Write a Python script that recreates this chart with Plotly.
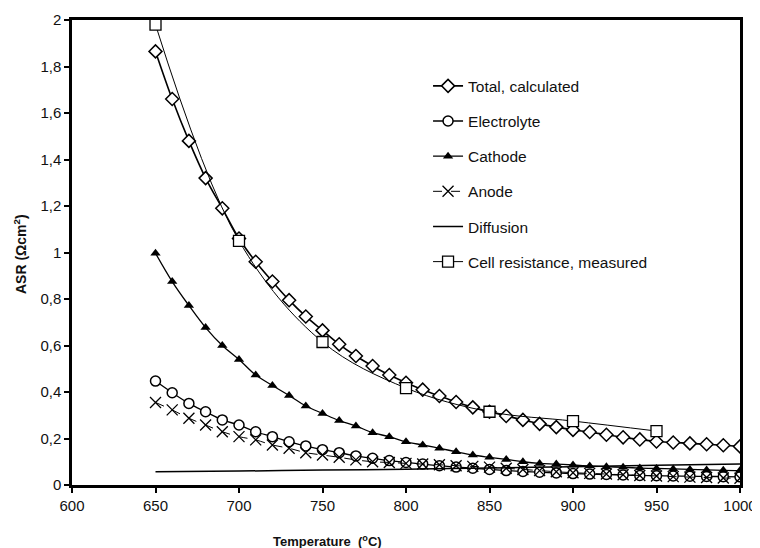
import plotly.graph_objects as go

temps = [650, 660, 670, 680, 690, 700, 710, 720, 730, 740, 750, 760, 770, 780, 790, 800,
         810, 820, 830, 840, 850, 860, 870, 880, 890, 900, 910, 920, 930, 940, 950, 960,
         970, 980, 990, 1000]

total_calc = [1.865, 1.66, 1.48, 1.32, 1.19, 1.06, 0.96, 0.875, 0.795, 0.725, 0.665, 0.605,
              0.555, 0.512, 0.473, 0.44, 0.41, 0.383, 0.357, 0.334, 0.315, 0.297, 0.28, 0.263,
              0.249, 0.237, 0.228, 0.216, 0.205, 0.196, 0.187, 0.183, 0.179, 0.175, 0.171, 0.166]

electrolyte = [0.447, 0.397, 0.351, 0.315, 0.28, 0.258, 0.229, 0.208, 0.186, 0.168, 0.152, 0.139,
               0.125, 0.115, 0.105, 0.097, 0.09, 0.083, 0.077, 0.072, 0.067, 0.062, 0.058, 0.055,
               0.052, 0.049, 0.047, 0.045, 0.043, 0.041, 0.04, 0.039, 0.038, 0.037, 0.036, 0.035]

cathode = [0.997, 0.875, 0.772, 0.677, 0.6, 0.54, 0.473, 0.428, 0.385, 0.34, 0.308, 0.277,
           0.254, 0.225, 0.208, 0.186, 0.172, 0.158, 0.143, 0.129, 0.119, 0.11, 0.1, 0.093,
           0.09, 0.086, 0.082, 0.079, 0.076, 0.073, 0.071, 0.069, 0.067, 0.065, 0.063, 0.062]

anode = [0.355, 0.323, 0.287, 0.258, 0.229, 0.208, 0.194, 0.172, 0.158, 0.139, 0.129, 0.119,
         0.108, 0.1, 0.097, 0.093, 0.09, 0.087, 0.083, 0.08, 0.077, 0.072, 0.067, 0.062,
         0.057, 0.053, 0.05, 0.047, 0.044, 0.041, 0.039, 0.036, 0.034, 0.032, 0.03, 0.029]

diff_temps = [650, 700, 750, 800, 850, 900, 950, 1000]
diffusion = [0.057, 0.06, 0.064, 0.068, 0.073, 0.079, 0.085, 0.09]

meas_temps = [650, 700, 750, 800, 850, 900, 950]
measured = [1.98, 1.05, 0.615, 0.417, 0.315, 0.275, 0.232]

x_ticks = [600, 650, 700, 750, 800, 850, 900, 950, 1000]
y_ticks = [0, 0.2, 0.4, 0.6, 0.8, 1, 1.2, 1.4, 1.6, 1.8, 2]
y_tick_text = ["0", "0,2", "0,4", "0,6", "0,8", "1", "1,2", "1,4", "1,6", "1,8", "2"]

fig = go.Figure()

fig.add_trace(go.Scatter(
    x=temps, y=total_calc, name="Total, calculated", mode="lines+markers", legendgroup="a",
    line=dict(color="black", width=1.6, shape="spline"),
    marker=dict(symbol="diamond", size=10, color="white", line=dict(color="black", width=1.5))))
fig.add_trace(go.Scatter(
    x=temps, y=electrolyte, name="Electrolyte", mode="lines+markers", legendgroup="b",
    line=dict(color="black", width=1.3, shape="spline"),
    marker=dict(symbol="circle", size=10, color="white", line=dict(color="black", width=1.5))))
fig.add_trace(go.Scatter(
    x=temps, y=cathode, name="Cathode", mode="lines+markers", legendgroup="c",
    line=dict(color="black", width=1.3, shape="spline"),
    marker=dict(symbol="triangle-up", size=9, color="black")))
fig.add_trace(go.Scatter(
    x=temps, y=anode, name="Anode", mode="lines+markers", legendgroup="d",
    line=dict(color="black", width=1, dash="dash", shape="spline"),
    marker=dict(symbol="x-thin", size=11, color="black", line=dict(color="black", width=1.3))))
fig.add_trace(go.Scatter(
    x=diff_temps, y=diffusion, name="Diffusion", mode="lines", legendgroup="e",
    line=dict(color="black", width=1.5, shape="spline")))
fig.add_trace(go.Scatter(
    x=meas_temps, y=measured, name="Cell resistance, measured", mode="lines+markers", legendgroup="f",
    line=dict(color="black", width=1, shape="spline"),
    marker=dict(symbol="square", size=11, color="white", line=dict(color="black", width=1.3))))

# the page body has an 8px margin, so the figure is offset by 8px right and down
fig.update_layout(
    width=760, height=548,
    margin=dict(l=64, r=28, t=12, b=71),
    paper_bgcolor="white", plot_bgcolor="white",
    font=dict(family="Liberation Sans, Arial, sans-serif", color="#111", size=15),
    showlegend=True,
    legend=dict(x=0.533, y=0.894, xanchor="left", yanchor="top", bgcolor="rgba(0,0,0,0)",
                font=dict(size=15.5), itemwidth=30, tracegroupgap=12),
    xaxis=dict(range=[600, 1000], tickvals=x_ticks, ticks="outside", ticklen=5, tickwidth=1.5,
               tickcolor="black", showline=True, linecolor="black", linewidth=2.5, mirror=True,
               showgrid=False, zeroline=False, tickfont=dict(size=15), automargin=False),
    yaxis=dict(range=[0, 2], tickvals=y_ticks, ticktext=y_tick_text, ticks="outside", ticklen=5,
               tickwidth=1.5, tickcolor="black", showline=True, linecolor="black", linewidth=2.5,
               mirror=True, showgrid=False, zeroline=False, tickfont=dict(size=15), automargin=False),
    annotations=[
        dict(text="<b>Temperature  (<sup>o</sup>C)</b>", xref="paper", yref="paper",
             x=(327 - 72) / 668, y=(485 - 541) / 465, xanchor="center", yanchor="middle",
             showarrow=False, font=dict(size=13)),
        dict(text="<b>ASR (Ωcm<sup>2</sup>)</b>", xref="paper", yref="paper",
             x=(20 - 72) / 668, y=(485 - 254) / 465, xanchor="center", yanchor="middle",
             textangle=-90, showarrow=False, font=dict(size=14)),
    ],
)

fig.write_html("out.html")
